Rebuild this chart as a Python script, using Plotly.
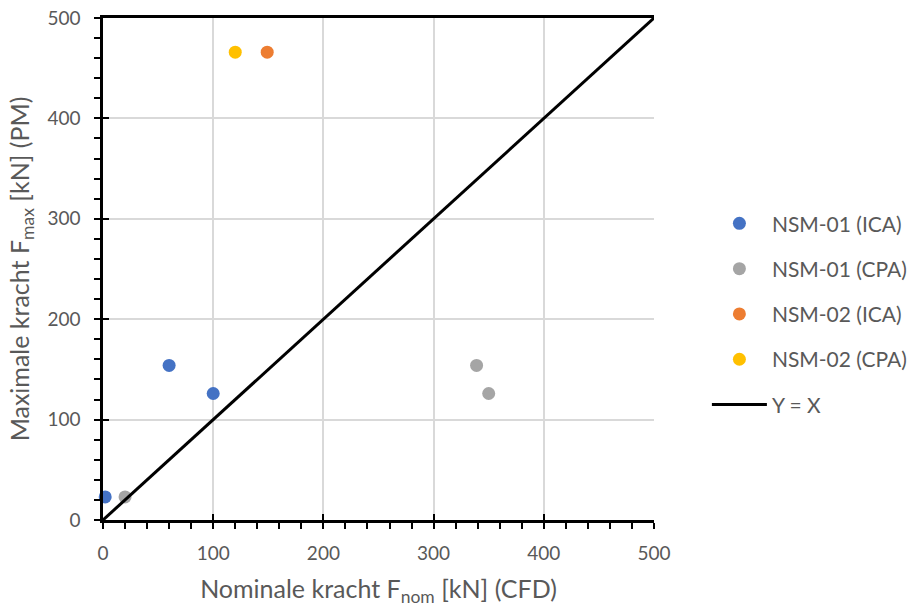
import plotly.graph_objects as go

# Nominal force (CFD) vs. maximum force (PM), in kN
nsm01_ica_x = [2, 60, 100]
nsm01_ica_y = [23, 154, 126]
nsm01_cpa_x = [20, 339, 350]
nsm01_cpa_y = [23, 154, 126]
nsm02_ica_x = [149]
nsm02_ica_y = [466]
nsm02_cpa_x = [120]
nsm02_cpa_y = [466]
identity_x = [0, 500]
identity_y = [0, 500]

major_ticks = [0, 100, 200, 300, 400, 500]

FONT = "Lato"
TEXT = "#595959"

fig = go.Figure()

series = [
    ("NSM-01 (ICA)", nsm01_ica_x, nsm01_ica_y, "#4472C4"),
    ("NSM-01 (CPA)", nsm01_cpa_x, nsm01_cpa_y, "#A5A5A5"),
    ("NSM-02 (ICA)", nsm02_ica_x, nsm02_ica_y, "#ED7D31"),
    ("NSM-02 (CPA)", nsm02_cpa_x, nsm02_cpa_y, "#FFC000"),
]
for name, xs, ys, col in series:
    fig.add_trace(go.Scatter(
        x=xs, y=ys, mode="markers", name=name, legendgroup=name,
        marker=dict(size=13, color=col, line=dict(width=0)),
        cliponaxis=False,
    ))

fig.add_trace(go.Scatter(
    x=identity_x, y=identity_y, mode="lines", name="Y = X", legendgroup="yx",
    line=dict(color="black", width=3),
))

axis_common = dict(
    range=[0, 500],
    tickvals=major_ticks,
    showgrid=True, gridcolor="#D9D9D9", gridwidth=1.5,
    zeroline=False,
    showline=True, linecolor="black", linewidth=2.5,
    ticks="outside", ticklen=6, tickwidth=2, tickcolor="black",
    minor=dict(dtick=20, ticks="outside", ticklen=6, tickwidth=1.5,
               tickcolor="black", showgrid=False),
    tickfont=dict(family=FONT, size=19, color=TEXT),
    automargin=False,
    fixedrange=True,
)

fig.update_layout(
    width=911, height=607,
    margin=dict(l=103, r=257, t=18, b=87, autoexpand=False),
    paper_bgcolor="white", plot_bgcolor="white",
    font=dict(family=FONT, color=TEXT),
    xaxis=dict(
        **axis_common,
        mirror=True,
        ticklabelstandoff=8,
        title=dict(text="Nominale kracht F<sub>nom</sub> [kN] (CFD)",
                   font=dict(family=FONT, size=25, color=TEXT), standoff=23),
    ),
    yaxis=dict(
        **axis_common,
        ticklabelstandoff=10,
        title=dict(text="Maximale kracht F<sub>max</sub> [kN] (PM)",
                   font=dict(family=FONT, size=25, color=TEXT), standoff=11),
    ),
    # inner halves of the crossing major tick marks
    xaxis2=dict(overlaying="x", anchor="y", side="bottom", range=[0, 500],
                tickvals=major_ticks, showticklabels=False, showgrid=False,
                zeroline=False, showline=False, ticks="inside", ticklen=6,
                tickwidth=2, tickcolor="black", fixedrange=True,
                automargin=False),
    yaxis2=dict(overlaying="y", anchor="x", side="left", range=[0, 500],
                tickvals=major_ticks, showticklabels=False, showgrid=False,
                zeroline=False, showline=False, ticks="inside", ticklen=6,
                tickwidth=2, tickcolor="black", fixedrange=True,
                automargin=False),
    legend=dict(
        x=1.096, y=0.41, xanchor="left", yanchor="middle",
        font=dict(family=FONT, size=21, color=TEXT),
        itemwidth=55,
        tracegroupgap=15, bgcolor="rgba(0,0,0,0)",
    ),
    showlegend=True,
)

# invisible trace to activate the overlay axes
fig.add_trace(go.Scatter(x=[None], y=[None], xaxis="x2", yaxis="y2",
                         showlegend=False, hoverinfo="skip"))

fig.write_html("out.html")
